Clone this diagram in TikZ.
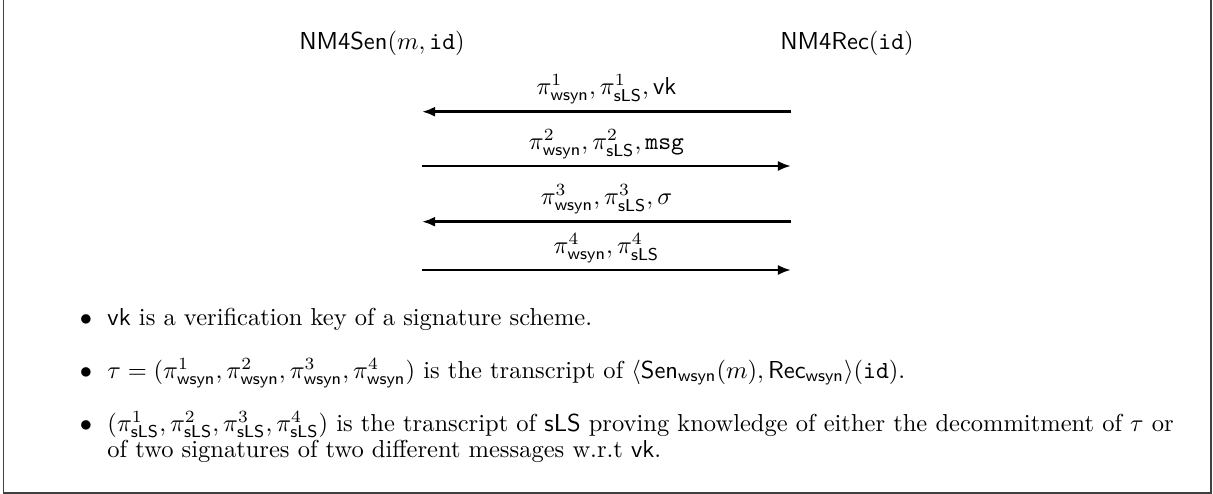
\documentclass[tikz,border=0pt]{standalone}
\usepackage{amsmath}
\usetikzlibrary{arrows.meta}
\newcommand{\wsy}{\mathsf{wsyn}}
\newcommand{\sls}{\mathsf{sLS}}
\begin{document}
\begin{tikzpicture}[x=0.408pt,y=-0.408pt,
  frame/.style={draw=black!75,line width=0.8pt},
  msgarrow/.style={line width=1.1pt,-{Latex[length=5.4pt,width=4.2pt]}},
  lab/.style={midway,above,inner sep=2.5pt},
  txt/.style={anchor=base west,inner sep=0pt},
  bul/.style={anchor=base,inner sep=0pt}]
\useasboundingbox (0,0) rectangle (1213,494);
\draw[frame] (3.5,-5) -- (3.5,493) -- (1211,493) -- (1211,-5);
\node[anchor=base] (sen) at (382,50) {$\mathsf{NM4Sen}(m,\mathtt{id})$};
\node[anchor=base] (rec) at (847,50) {$\mathsf{NM4Rec}(\mathtt{id})$};
\coordinate (l1) at (422,111.7); \coordinate (r1) at (791,111.7);
\coordinate (l2) at (422,166);   \coordinate (r2) at (791,166);
\coordinate (l3) at (422,221.7); \coordinate (r3) at (791,221.7);
\coordinate (l4) at (422,270);   \coordinate (r4) at (791,270);
\draw[msgarrow] (r1) -- node[lab] (m1) {$\pi^1_{\wsy},\pi^1_{\sls},\mathsf{vk}$} (l1);
\draw[msgarrow] (l2) -- node[lab] (m2) {$\pi^2_{\wsy},\pi^2_{\sls},\mathtt{msg}$} (r2);
\draw[msgarrow] (r3) -- node[lab] (m3) {$\pi^3_{\wsy},\pi^3_{\sls},\sigma$} (l3);
\draw[msgarrow] (l4) -- node[lab] (m4) {$\pi^4_{\wsy},\pi^4_{\sls}$} (r4);
\node[bul] (b1) at (86,325) {$\bullet$};
\node[txt] (t1) at (107,325) {$\mathsf{vk}$ is a verification key of a signature scheme.};
\node[bul] (b2) at (86,378) {$\bullet$};
\node[txt] (t2) at (107,378) {$\tau=(\pi^1_{\wsy},\pi^2_{\wsy},\pi^3_{\wsy},\pi^4_{\wsy})$ is the transcript of $\langle\mathsf{Sen}_{\wsy}(m),\mathsf{Rec}_{\wsy}\rangle(\mathtt{id})$.};
\node[bul] (b3) at (86,431) {$\bullet$};
\node[txt] (t3a) at (107,431) {$(\pi^1_{\sls},\pi^2_{\sls},\pi^3_{\sls},\pi^4_{\sls})$ is the transcript of $\sls$ proving knowledge of either the decommitment of $\tau$ or};
\node[txt] (t3b) at (107,457) {of two signatures of two different messages w.r.t $\mathsf{vk}$.};
\end{tikzpicture}
\end{document}
